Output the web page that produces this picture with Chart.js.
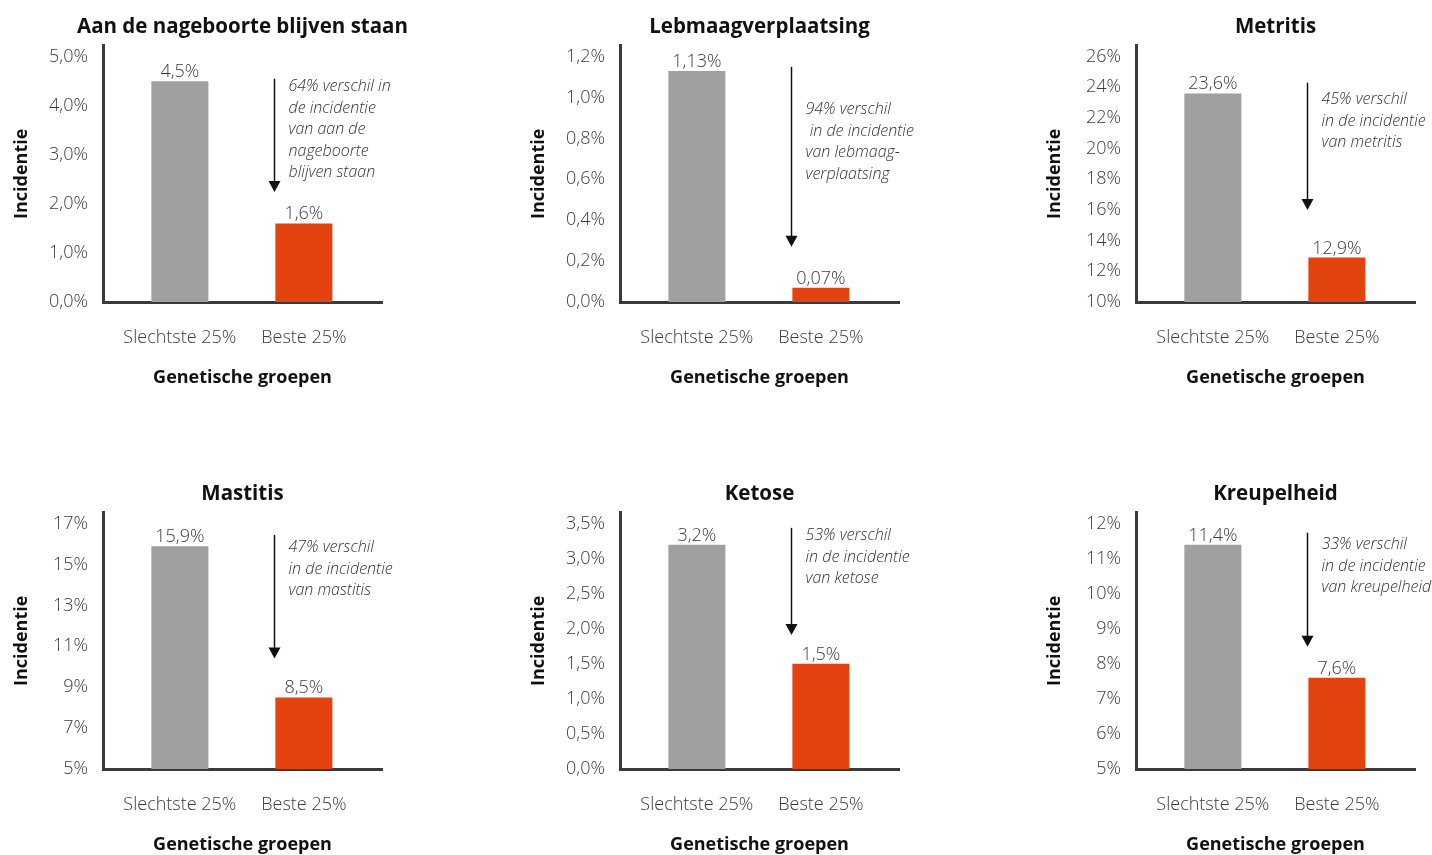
<!DOCTYPE html>
<html>
<head>
<meta charset="utf-8">
<script src="https://cdn.jsdelivr.net/npm/chart.js@4.4.1/dist/chart.umd.min.js"></script>
<style>
  html, body { margin: 0; padding: 0; background: #fff; overflow: hidden; }
  #wrap { position: relative; width: 1432px; height: 855px; overflow: hidden; }
  .box { position: absolute; width: 420px; height: 390px; }
</style>
</head>
<body>
<div id="wrap">
  <div class="box" style="left:0px;top:0px"><canvas id="c0" width="420" height="390"></canvas></div>
  <div class="box" style="left:517px;top:0px"><canvas id="c1" width="420" height="390"></canvas></div>
  <div class="box" style="left:1033px;top:0px"><canvas id="c2" width="420" height="390"></canvas></div>
  <div class="box" style="left:0px;top:467px"><canvas id="c3" width="420" height="390"></canvas></div>
  <div class="box" style="left:517px;top:467px"><canvas id="c4" width="420" height="390"></canvas></div>
  <div class="box" style="left:1033px;top:467px"><canvas id="c5" width="420" height="390"></canvas></div>
</div>
<script>
// data
var titles = ["Aan de nageboorte blijven staan", "Lebmaagverplaatsing", "Metritis", "Mastitis", "Ketose", "Kreupelheid"];
var groups = ["Slechtste 25%", "Beste 25%"];
var slechtste = [4.5, 1.13, 23.6, 15.9, 3.2, 11.4];
var beste = [1.6, 0.07, 12.9, 8.5, 1.5, 7.6];
var valueDecimals = [1, 2, 1, 1, 1, 1];
var yTicks = [
  [0, 1, 2, 3, 4, 5],
  [0, 0.2, 0.4, 0.6, 0.8, 1.0, 1.2],
  [10, 12, 14, 16, 18, 20, 22, 24, 26],
  [5, 7, 9, 11, 13, 15, 17],
  [0, 0.5, 1.0, 1.5, 2.0, 2.5, 3.0, 3.5],
  [5, 6, 7, 8, 9, 10, 11, 12]
];
var tickDecimals = [1, 1, 0, 0, 1, 0];
var notes = [
  ["64% verschil in", "de incidentie", "van aan de", "nageboorte", "blijven staan"],
  ["94% verschil", " in de incidentie", "van lebmaag-", "verplaatsing"],
  ["45% verschil", "in de incidentie", "van metritis"],
  ["47% verschil", "in de incidentie", "van mastitis"],
  ["53% verschil", "in de incidentie", "van ketose"],
  ["33% verschil", "in de incidentie", "van kreupelheid"]
];

// arrow / note anchors, in y-axis units of each chart
var arrowFrom = [4.55, 1.15, 24.3, 16.45, 3.44, 11.74];
var arrowTo = [2.24, 0.27, 16.0, 10.4, 1.91, 8.49];
var noteAt = [4.39, 0.94, 23.2, 15.82, 3.33, 11.4];

var GREY = "#a0a0a0", ORANGE = "#e2430f", AXIS = "#3a3a3a", TXT = "#3c3c3c";
var FONT = "'Open Sans'";

function fmt(v, d) {
  return v.toFixed(d).replace(".", ",") + "%";
}

var extras = {
  id: "extras",
  afterLayout: function(chart) {
    // let long titles run wider than the plot area, still centred on it
    var t = chart.titleBlock;
    if (t) { t.left -= 60; t.right += 60; }
  },
  afterDatasetsDraw: function(chart, args, o) {
    var ctx = chart.ctx, ys = chart.scales.y;
    var meta = chart.getDatasetMeta(0);
    var vals = chart.data.datasets[0].data;
    ctx.save();
    // value labels
    ctx.font = "300 18px " + FONT;
    ctx.fillStyle = TXT;
    ctx.textAlign = "center";
    ctx.textBaseline = "alphabetic";
    meta.data.forEach(function(bar, j) {
      ctx.fillText(fmt(vals[j].y, o.dec), bar.x, bar.y - 4);
    });
    // arrow
    var b = meta.data[1];
    var ax = Math.round(b.x - b.width / 2) - 0.5;
    var y0 = ys.getPixelForValue(o.from), y1 = ys.getPixelForValue(o.to);
    ctx.strokeStyle = "#111";
    ctx.fillStyle = "#111";
    ctx.lineWidth = 1.5;
    ctx.beginPath();
    ctx.moveTo(ax, y0);
    ctx.lineTo(ax, y1 - 10);
    ctx.stroke();
    ctx.beginPath();
    ctx.moveTo(ax - 6, y1 - 11);
    ctx.lineTo(ax + 6, y1 - 11);
    ctx.lineTo(ax, y1);
    ctx.closePath();
    ctx.fill();
    // note text
    ctx.font = "italic 300 16px " + FONT;
    ctx.fillStyle = "#333";
    ctx.textAlign = "left";
    ctx.textBaseline = "middle";
    var ty = ys.getPixelForValue(o.text);
    o.lines.forEach(function(t, k) {
      ctx.fillText(t, ax + 14, ty + k * 21.5);
    });
    ctx.restore();
  }
};

titles.forEach(function(title, i) {
  var tv = yTicks[i];
  var lo = tv[0], hi = tv[tv.length - 1];
  new Chart(document.getElementById("c" + i), {
    type: "bar",
    data: {
      datasets: [{
        data: [{x: 0, y: slechtste[i]}, {x: 1, y: beste[i]}],
        backgroundColor: [GREY, ORANGE],
        barPercentage: 0.46,
        categoryPercentage: 1
      }]
    },
    plugins: [extras],
    options: {
      responsive: false,
      animation: false,
      devicePixelRatio: 1,
      layout: { padding: { left: 0, right: 38, top: 0, bottom: 0 } },
      plugins: {
        legend: { display: false },
        tooltip: { enabled: false },
        title: {
          display: true,
          text: title,
          fullSize: false,
          color: "#111",
          font: { family: FONT, size: 20.5, weight: "bold" },
          padding: { top: 15, bottom: 6 }
        },
        extras: {
          dec: valueDecimals[i],
          from: arrowFrom[i],
          to: arrowTo[i],
          text: noteAt[i],
          lines: notes[i]
        }
      },
      scales: {
        x: {
          type: "linear",
          offset: false,
          min: -0.62,
          max: 1.63,
          grid: { display: false },
          border: { display: true, color: AXIS, width: 3 },
          afterBuildTicks: function(s) { s.ticks = [{value: 0}, {value: 1}]; },
          afterFit: function(s) { s.height = 88; },
          ticks: {
            callback: function(v) { return groups[v]; },
            padding: 17,
            maxRotation: 0,
            autoSkip: false,
            color: TXT,
            font: { family: FONT, size: 18, weight: 300 }
          },
          title: {
            display: true,
            text: "Genetische groepen",
            color: "#111",
            font: { family: FONT, size: 18, weight: "bold" },
            padding: { top: 0, bottom: 1 }
          }
        },
        y: {
          min: lo,
          max: hi + (hi - lo) * 0.045,
          grid: { display: false },
          border: { display: true, color: AXIS, width: 3 },
          afterBuildTicks: function(s) { s.ticks = tv.map(function(v) { return {value: v}; }); },
          afterFit: function(s) { s.width = 103; },
          ticks: {
            callback: function(v) { return fmt(v, tickDecimals[i]); },
            padding: 7,
            color: TXT,
            font: { family: FONT, size: 18, weight: 300 }
          },
          title: {
            display: true,
            text: "Incidentie",
            color: "#111",
            font: { family: FONT, size: 18, weight: "bold" },
            padding: { top: 11, bottom: 0 }
          }
        }
      }
    }
  });
});
</script>
</body>
</html>
